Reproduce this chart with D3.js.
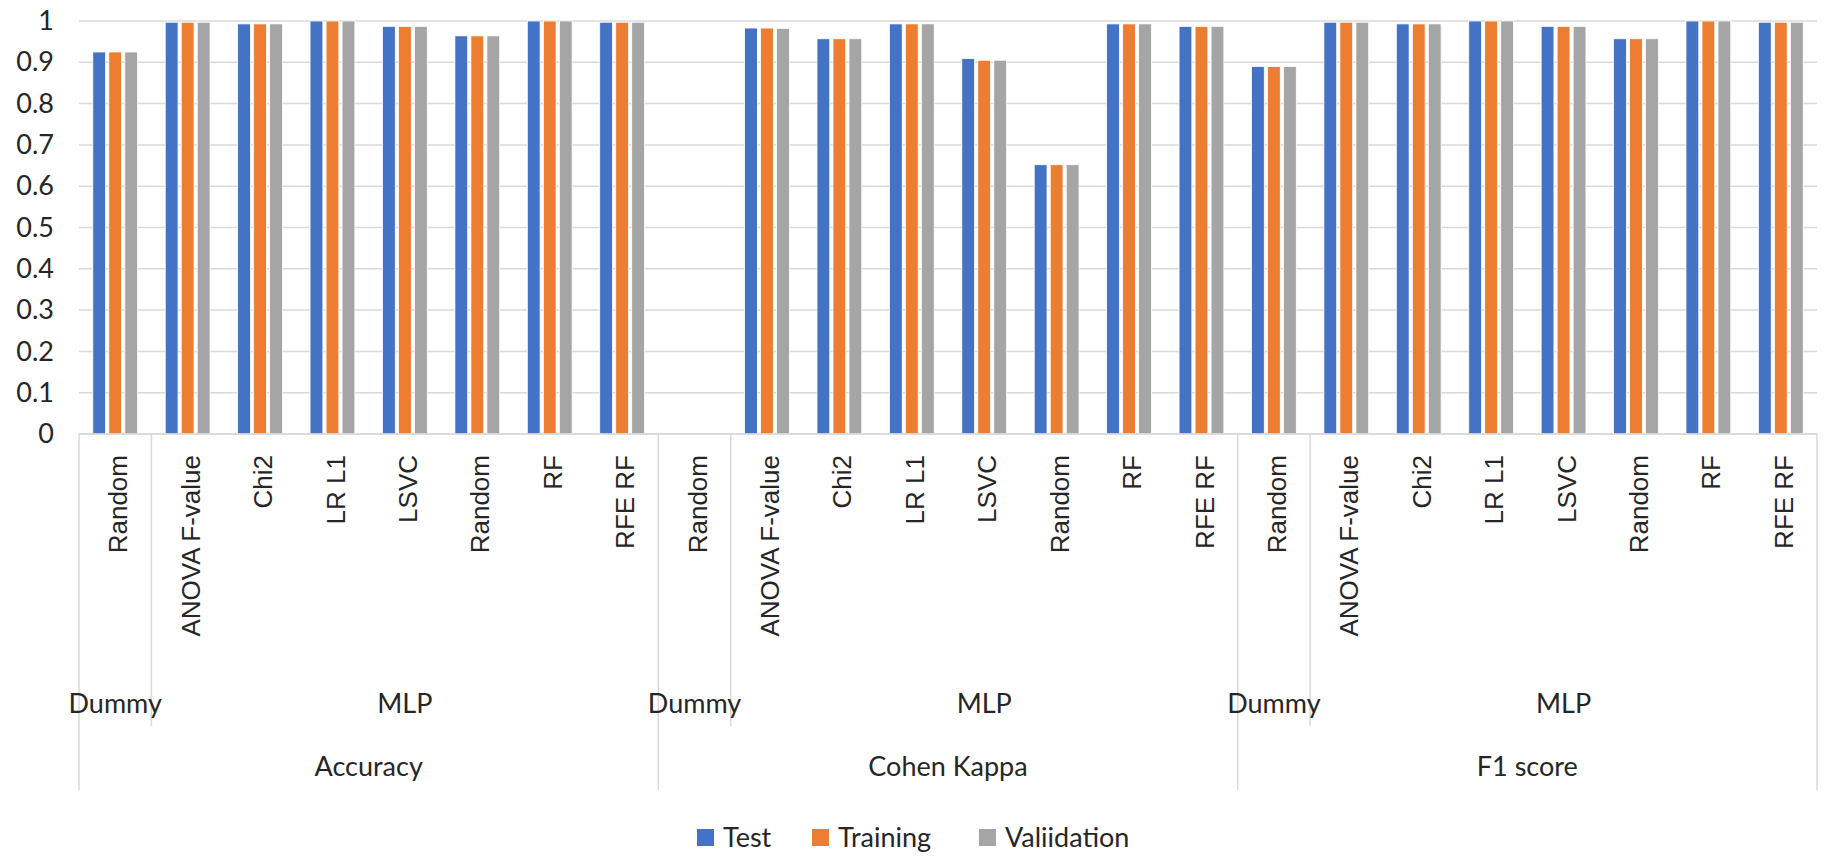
<!DOCTYPE html>
<html>
<head>
<meta charset="utf-8">
<script src="https://cdn.jsdelivr.net/npm/d3@7"></script>
<style>
  html, body { margin: 0; padding: 0; background: #ffffff; }
  svg { display: block; }
</style>
</head>
<body>
<svg id="chart" width="1826" height="862"></svg>
<script>
// ---------------- data ----------------
const metrics = ["Accuracy", "Cohen Kappa", "F1 score"];
const models = ["Dummy", "MLP"];
const dummyMethods = ["Random"];
const mlpMethods = ["ANOVA F-value", "Chi2", "LR L1", "LSVC", "Random", "RF", "RFE RF"];
const seriesNames = ["Test", "Training", "Valiidation"];
const seriesColors = ["#4472C4", "#ED7D31", "#A5A5A5"];
const yTicks = [0, 0.1, 0.2, 0.3, 0.4, 0.5, 0.6, 0.7, 0.8, 0.9, 1];

// order: per metric -> Dummy Random, MLP ANOVA, Chi2, LR L1, LSVC, Random, RF, RFE RF
const testValues = [
  0.925, 0.997, 0.993, 1.0, 0.987, 0.964, 1.0, 0.997,
  0, 0.983, 0.957, 0.993, 0.909, 0.652, 0.993, 0.987,
  0.890, 0.997, 0.993, 1.0, 0.987, 0.957, 1.0, 0.997
];
const trainingValues = [
  0.925, 0.997, 0.993, 1.0, 0.987, 0.964, 1.0, 0.997,
  0, 0.983, 0.957, 0.993, 0.905, 0.652, 0.993, 0.987,
  0.890, 0.997, 0.993, 1.0, 0.987, 0.957, 1.0, 0.997
];
const validationValues = [
  0.925, 0.997, 0.993, 1.0, 0.987, 0.964, 1.0, 0.997,
  0, 0.982, 0.957, 0.993, 0.905, 0.652, 0.993, 0.987,
  0.890, 0.997, 0.993, 1.0, 0.987, 0.957, 1.0, 0.997
];
const seriesValues = [testValues, trainingValues, validationValues];

(function () {
// ---------------- build categories ----------------
const leaves = [];
metrics.forEach(m => {
  dummyMethods.forEach(meth => leaves.push({metric: m, model: "Dummy", method: meth}));
  mlpMethods.forEach(meth => leaves.push({metric: m, model: "MLP", method: meth}));
});
leaves.forEach((d, i) => { d.key = i; });

// ---------------- layout ----------------
const svg = d3.select("#chart");
const plotLeft = 79, plotRight = 1817, plotTop = 21, base = 434;

const x = d3.scaleBand().domain(leaves.map(d => d.key)).range([plotLeft, plotRight]).padding(0);
const step = x.step();
const groupW = 48;
const xs = d3.scaleBand().domain(seriesNames)
  .range([(step - groupW) / 2, (step + groupW) / 2]).paddingInner(0.2).paddingOuter(0.1);
const y = d3.scaleLinear().domain([0, 1]).range([base, plotTop]);

const gridColor = "#d9d9d9";
const textColor = "#262626";

// gridlines
svg.append("g").selectAll("line").data(yTicks).join("line")
  .attr("x1", plotLeft).attr("x2", plotRight)
  .attr("y1", d => y(d)).attr("y2", d => y(d))
  .attr("stroke", gridColor).attr("stroke-width", 1.5);

// y axis labels
const yAxis = d3.axisLeft(y).tickValues(yTicks).tickFormat(d3.format("~g")).tickSize(0).tickPadding(0);
const yg = svg.append("g").attr("transform", "translate(54,0)").call(yAxis);
yg.select(".domain").remove();
yg.selectAll("text")
  .attr("font-family", "Lato, 'Open Sans', sans-serif")
  .attr("font-size", 27)
  .attr("fill", textColor);

// bars
const barsG = svg.append("g");
seriesNames.forEach((s, si) => {
  barsG.append("g").selectAll("rect").data(leaves).join("rect")
    .attr("x", d => x(d.key) + xs(s))
    .attr("width", xs.bandwidth())
    .attr("y", d => y(seriesValues[si][d.key]))
    .attr("height", d => base - y(seriesValues[si][d.key]))
    .attr("fill", seriesColors[si])
    .attr("stroke", "#ffffff").attr("stroke-width", 0.8);
});

// leaf labels (rotated)
svg.append("g").selectAll("text").data(leaves).join("text")
  .attr("transform", d => `translate(${x(d.key) + step / 2 + 3},455) rotate(-90)`)
  .attr("text-anchor", "end")
  .attr("dy", "0.35em")
  .attr("font-family", "'Liberation Sans', Arial, sans-serif")
  .attr("font-size", 26)
  .attr("fill", textColor)
  .text(d => d.method);

// separator lines
const modelGroups = [];
const metricGroups = [];
metrics.forEach(m => {
  const mLeaves = leaves.filter(d => d.metric === m);
  const mStart = x(mLeaves[0].key), mEnd = x(mLeaves[mLeaves.length - 1].key) + step;
  metricGroups.push({name: m, start: mStart, end: mEnd});
  models.forEach(md => {
    const l = mLeaves.filter(d => d.model === md);
    modelGroups.push({name: md, start: x(l[0].key), end: x(l[l.length - 1].key) + step});
  });
});
const metricBounds = [plotLeft].concat(metricGroups.map(g => g.end));
const modelBounds = modelGroups.map(g => g.start).filter(v => !metricBounds.includes(v));

svg.append("g").selectAll("line").data(metricBounds).join("line")
  .attr("x1", d => d).attr("x2", d => d)
  .attr("y1", base).attr("y2", 790)
  .attr("stroke", gridColor).attr("stroke-width", 1.5);
svg.append("g").selectAll("line").data(modelBounds).join("line")
  .attr("x1", d => d).attr("x2", d => d)
  .attr("y1", base).attr("y2", 726)
  .attr("stroke", gridColor).attr("stroke-width", 1.5);

// baseline
svg.append("line").attr("x1", plotLeft).attr("x2", plotRight)
  .attr("y1", base).attr("y2", base)
  .attr("stroke", gridColor).attr("stroke-width", 1.5);

// model labels
svg.append("g").selectAll("text").data(modelGroups).join("text")
  .attr("x", d => (d.start + d.end) / 2)
  .attr("y", 713)
  .attr("text-anchor", "middle")
  .attr("font-family", "Lato, 'Open Sans', sans-serif")
  .attr("font-size", 27)
  .attr("fill", textColor)
  .text(d => d.name);

// metric labels
svg.append("g").selectAll("text").data(metricGroups).join("text")
  .attr("x", d => (d.start + d.end) / 2)
  .attr("y", 776)
  .attr("text-anchor", "middle")
  .attr("font-family", "Lato, 'Open Sans', sans-serif")
  .attr("font-size", 27)
  .attr("fill", textColor)
  .text(d => d.name);

// legend
const legend = svg.append("g").attr("transform", "translate(0,838)");
const legendX = [697, 812, 979];
seriesNames.forEach((s, i) => {
  const g = legend.append("g").attr("transform", `translate(${legendX[i]},0)`);
  g.append("rect").attr("x", 0).attr("y", -9).attr("width", 17).attr("height", 17)
    .attr("fill", seriesColors[i]);
  g.append("text").attr("x", 26).attr("y", 0).attr("dy", "0.35em")
    .attr("font-family", "Lato, 'Open Sans', sans-serif")
    .attr("font-size", 27)
    .attr("fill", textColor)
    .text(s);
});
})();
</script>
</body>
</html>
